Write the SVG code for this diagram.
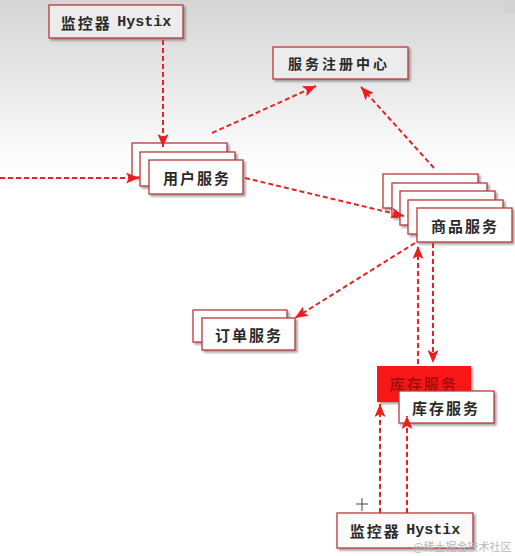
<svg xmlns="http://www.w3.org/2000/svg" width="515" height="556" viewBox="0 0 515 556">
<defs>
<linearGradient id="bg" x1="0" y1="0" x2="0" y2="1">
<stop offset="0" stop-color="#d5d5d5"/>
<stop offset="0.15" stop-color="#e8e8e8"/>
<stop offset="0.27" stop-color="#fbfbfb"/>
<stop offset="0.35" stop-color="#ffffff"/>
</linearGradient>
<filter id="sh" x="-10%" y="-20%" width="130%" height="150%">
<feDropShadow dx="2" dy="2" stdDeviation="1.2" flood-color="#555" flood-opacity="0.55"/>
</filter>
<filter id="blur"><feGaussianBlur stdDeviation="0.7"/></filter>
<marker id="ah" markerUnits="userSpaceOnUse" markerWidth="14" markerHeight="11" refX="13" refY="5.5" orient="auto">
<path d="M0,0 L13,5.5 L0,11 L3,5.5 z" fill="#ee1c1c"/>
</marker>
</defs>
<style>
.box{stroke:#b83a3a;stroke-width:1.3;filter:url(#sh)}
.w{fill:#ffffff}
.g{fill:#ececec}
.t{font-family:"Noto Sans CJK SC","Liberation Sans",sans-serif;font-size:15px;font-weight:bold;fill:#2a2a2a;text-anchor:middle;dominant-baseline:central;letter-spacing:2px}
.m{font-family:"Liberation Mono",monospace;letter-spacing:0}
.c{fill:none;stroke:#e52525;stroke-width:2;stroke-dasharray:5 3;marker-end:url(#ah)}
</style>
<rect x="0" y="0" width="515" height="556" fill="url(#bg)"/>
<rect x="503" y="0" width="12" height="14" fill="#d2d2d2"/>

<g id="monitor-top">
<rect class="box g" x="49" y="5" width="134" height="33"/>
<text class="t" x="116" y="22" font-size="14">监控器 <tspan class="m">Hystix</tspan></text>
</g>

<g id="registry">
<rect class="box g" x="273" y="47" width="135" height="32"/>
<text class="t" x="339" y="63" style="font-size:14px;letter-spacing:3px">服务注册中心</text>
</g>

<g id="user-service">
<rect class="box w" x="132" y="143" width="95" height="34"/>
<rect class="box w" x="140" y="152" width="95" height="34"/>
<rect class="box w" x="149" y="160" width="94" height="34"/>
<text class="t" x="197" y="177">用户服务</text>
</g>

<g id="goods-service">
<rect class="box w" x="383" y="174" width="95" height="34"/>
<rect class="box w" x="392" y="183" width="95" height="34"/>
<rect class="box w" x="400" y="191" width="95" height="34"/>
<rect class="box w" x="408" y="200" width="95" height="34"/>
<rect class="box w" x="417" y="208" width="95" height="34"/>
<text class="t" x="465" y="225">商品服务</text>
</g>

<g id="order-service">
<rect class="box w" x="193" y="310" width="94" height="32"/>
<rect class="box w" x="202" y="318" width="93" height="32"/>
<text class="t" x="249" y="334">订单服务</text>
</g>

<g id="inventory-red">
<rect x="377" y="366" width="94" height="36" fill="#f81212" filter="url(#sh)"/>
<text class="t" x="424" y="383" style="fill:#a51010" filter="url(#blur)">库存服务</text>
</g>

<g id="inventory-service">
<rect class="box w" x="399" y="391" width="95" height="32"/>
<text class="t" x="446" y="407">库存服务</text>
</g>

<g id="monitor-bottom">
<rect class="box" fill="#fbfbfb" x="337" y="513" width="136" height="35"/>
<text class="t" x="405" y="530" font-size="14">监控器 <tspan class="m">Hystix</tspan></text>
</g>

<g id="connectors">
<path class="c" d="M0,178 L139,178"/>
<path class="c" d="M163,40 L163,147"/>
<path class="c" d="M212,133 L316,86"/>
<path class="c" d="M434,168 L361,87"/>
<path class="c" d="M245,178 L404,216"/>
<path class="c" d="M415,243 L295,318"/>
<path class="c" d="M418,364 L418,246"/>
<path class="c" d="M433,243 L433,363"/>
<path class="c" d="M380,513 L380,404"/>
<path class="c" d="M407,513 L407,416"/>
</g>

<g id="cursor" stroke="#444" stroke-width="1">
<path d="M356,504 L368,504 M362,498 L362,511"/>
</g>
<text x="413" y="551" font-family="'Noto Sans CJK SC',sans-serif" font-size="11" fill="#b8b8b8">@稀土掘金技术社区</text>
</svg>
